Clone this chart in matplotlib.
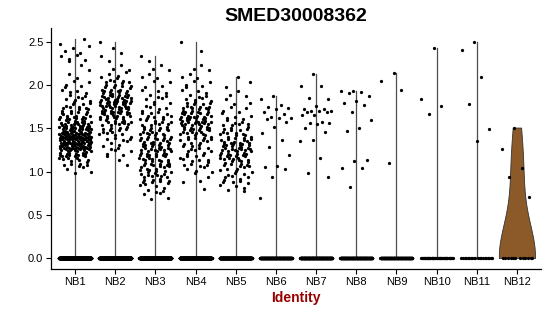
import numpy as np
import matplotlib
matplotlib.use('Agg')
import matplotlib.pyplot as plt

plt.rcParams['font.family'] = ['Liberation Sans', 'DejaVu Sans']

GENE = "SMED30008362"
GROUPS = ['NB1', 'NB2', 'NB3', 'NB4', 'NB5', 'NB6',
          'NB7', 'NB8', 'NB9', 'NB10', 'NB11', 'NB12']

# cells with zero expression in each identity
ZERO_COUNTS = [900, 900, 800, 700, 600, 300, 300, 250, 200, 40, 20, 12]

# dense groups: number of cells per 0.1-wide expression bin (bin centres)
BIN_CENTERS = [0.7, 0.8, 0.9, 1.0, 1.1, 1.2, 1.3, 1.4, 1.5, 1.6,
               1.7, 1.8, 1.9, 2.0, 2.1, 2.2, 2.3, 2.4, 2.5]
NB1_COUNTS = [0, 0, 0, 4, 10, 25, 45, 50, 35, 22, 14, 9, 7, 5, 2, 2, 5, 4, 2]
NB2_COUNTS = [0, 0, 0, 0, 2, 5, 6, 9, 13, 18, 24, 28, 20, 12, 6, 3, 2, 2, 1]
NB3_COUNTS = [4, 6, 13, 15, 17, 19, 20, 17, 15, 12, 8, 6, 6, 4, 3, 3, 2, 0, 0]
NB4_COUNTS = [0, 1, 3, 5, 9, 9, 10, 14, 20, 24, 18, 10, 6, 5, 3, 3, 0, 1, 1]
NB5_COUNTS = [0, 5, 9, 9, 14, 20, 21, 14, 11, 7, 5, 3, 3, 2, 1, 0, 0, 0, 0]

# sparse groups: nonzero values read point by point
NB6_VALUES = [1.87, 1.84, 1.77, 1.75, 1.74, 1.73, 1.69, 1.67, 1.63, 1.62, 1.62,
              1.61, 1.58, 1.52, 1.45, 1.37, 1.28, 1.19, 1.07, 1.05, 1.03, 0.94, 0.69]
NB7_VALUES = [2.13, 1.99, 1.99, 1.85, 1.84, 1.76, 1.72, 1.72, 1.70, 1.70, 1.70,
              1.69, 1.69, 1.66, 1.65, 1.57, 1.56, 1.56, 1.55, 1.51, 1.46, 1.37,
              1.35, 1.16, 0.98, 0.94]
NB8_VALUES = [1.93, 1.93, 1.92, 1.91, 1.87, 1.82, 1.79, 1.77, 1.69, 1.60, 1.50,
              1.47, 1.14, 1.12, 1.04, 1.04, 0.82]
NB9_VALUES = [2.14, 2.05, 1.94, 1.10]
NB10_VALUES = [2.43, 1.84, 1.76, 1.67]
NB11_VALUES = [2.50, 2.41, 2.10, 1.78, 1.49, 1.36]
NB12_VALUES = [1.51, 1.26, 1.04, 0.94, 0.71]

VIOLIN_FILL = '#8C5A28'
BW_ADJUST = 1.5
JITTER = 0.4

# R2 low-discrepancy constants for even 2d scatter inside each bin
A1 = 0.7548776662
A2 = 0.5698402910


def expand_bins(counts):
    vals, offs = [], []
    for b, (c, n) in enumerate(zip(BIN_CENTERS, counts)):
        for k in range(n):
            u = ((k + 0.5) * A1 + b * 0.37) % 1.0
            v = ((k + 0.5) * A2) % 1.0 if n > 1 else 0.5
            vals.append(c - 0.05 + 0.1 * v)
            offs.append((2 * u - 1) * JITTER)
    return vals, offs


def spread(n, start=0.0):
    # evenly scattered horizontal offsets (golden ratio sequence)
    k = np.arange(n)
    return ((k * 0.6180339887 + start) % 1.0) * 2 * JITTER - JITTER


def bw_nrd0(x):
    hi = np.std(x, ddof=1)
    q75, q25 = np.percentile(x, [75, 25])
    lo = min(hi, (q75 - q25) / 1.34)
    if not lo:
        lo = hi or abs(x[0]) or 1.0
    return 0.9 * lo * len(x) ** -0.2


cells = [expand_bins(NB1_COUNTS), expand_bins(NB2_COUNTS), expand_bins(NB3_COUNTS),
         expand_bins(NB4_COUNTS), expand_bins(NB5_COUNTS)]
for v in [NB6_VALUES, NB7_VALUES, NB8_VALUES, NB9_VALUES, NB10_VALUES,
          NB11_VALUES, NB12_VALUES]:
    cells.append((v, spread(len(v), start=0.41)))

fig = plt.figure(figsize=(5.5, 3.16), dpi=100)
ax = fig.add_axes([51 / 550, 1 - 269 / 316, 490 / 550, 241 / 316])

all_max = 0.0
for i, ((vals, offs), nz) in enumerate(zip(cells, ZERO_COUNTS)):
    xpos = i + 1
    data = np.concatenate([np.zeros(nz), np.array(vals)])
    all_max = max(all_max, data.max())
    q75, q25 = np.percentile(data, [75, 25])
    if q75 - q25 == 0:
        # degenerate violin: only its outline shows as a line
        ax.plot([xpos, xpos], [data.min(), data.max()], color='#4d4d4d',
                lw=0.9, zorder=1)
    else:
        bw = bw_nrd0(data) * BW_ADJUST
        grid = np.linspace(data.min(), data.max(), 512)
        dens = np.exp(-0.5 * ((grid[:, None] - data[None, :]) / bw) ** 2).sum(axis=1)
        half = dens / dens.max() * 0.45
        ax.fill_betweenx(grid, xpos - half, xpos + half, facecolor=VIOLIN_FILL,
                         edgecolor='#333333', lw=0.6, zorder=1)

    ax.scatter(xpos + spread(nz, start=0.13), np.zeros(nz), s=5.5, c='black',
               linewidths=0, zorder=3)
    ax.scatter(xpos + np.asarray(offs), vals, s=5.5, c='black',
               linewidths=0, zorder=3)

ax.set_xlim(0.4, len(GROUPS) + 0.6)
ax.set_ylim(-0.05 * all_max, all_max * 1.05)
ax.set_xticks(range(1, len(GROUPS) + 1))
ax.set_xticklabels(GROUPS)
ax.set_yticks([0, 0.5, 1.0, 1.5, 2.0, 2.5])
ax.set_yticklabels(['0.0', '0.5', '1.0', '1.5', '2.0', '2.5'])

for side in ['top', 'right']:
    ax.spines[side].set_visible(False)
for side in ['left', 'bottom']:
    ax.spines[side].set_linewidth(0.9)
ax.tick_params(direction='out', length=3.5, width=0.8, labelsize=8, pad=2)

ax.set_title(GENE, fontsize=14, fontweight='bold', pad=5)
ax.set_xlabel('Identity', fontsize=10, fontweight='bold', color='#990000', labelpad=3)

fig.savefig('out.png', dpi=100)
